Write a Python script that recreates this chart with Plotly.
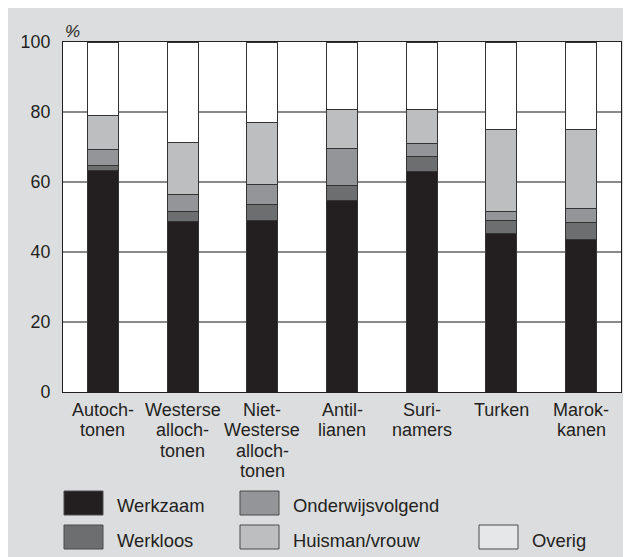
import plotly.graph_objects as go

# ---- data ----
categories = ["Autochtonen", "Westerse allochtonen", "Niet-Westerse allochtonen",
              "Antillianen", "Surinamers", "Turken", "Marokkanen"]
category_labels = [["Autoch-", "tonen"],
                   ["Westerse", "alloch-", "tonen"],
                   ["Niet-", "Westerse", "alloch-", "tonen"],
                   ["Antil-", "lianen"],
                   ["Suri-", "namers"],
                   ["Turken"],
                   ["Marok-", "kanen"]]
werkzaam = [63.3, 48.6, 48.9, 54.6, 63.1, 45.2, 43.7]
werkloos = [1.3, 3.1, 4.8, 4.3, 4.3, 3.8, 4.8]
onderwijsvolgend = [4.7, 4.7, 5.7, 10.7, 3.6, 2.7, 3.8]
huisman_vrouw = [9.7, 14.9, 17.7, 11.2, 9.7, 23.2, 22.6]
overig = [21.0, 28.7, 22.9, 19.2, 19.3, 25.1, 25.1]
y_ticks = [0, 20, 40, 60, 80, 100]

series_names = ["Werkzaam", "Werkloos", "Onderwijsvolgend", "Huisman/vrouw", "Overig"]
series_values = [werkzaam, werkloos, onderwijsvolgend, huisman_vrouw, overig]
bar_colors = ["#231f20", "#6d6e70", "#939598", "#bcbec0", "#ffffff"]
legend_colors = ["#231f20", "#6d6e70", "#939598", "#bcbec0", "#e6e7e8"]

W, H = 631, 557
OFF = 8  # page offset of the figure
ML, MT = 63 - OFF, 42 - OFF
PR, PB = 621 - OFF, 392 - OFF
MR, MB = W - PR, H - PB
PW = PR - ML
PH = PB - MT
FONT = "Liberation Sans, Arial, sans-serif"
TXT = "#231f20"


def fx(px):
    # px in reference-picture pixels
    return (px - OFF - ML) / PW


def fy(py):
    return (PB - (py - OFF)) / PH


fig = go.Figure()
xidx = list(range(len(categories)))
for name, vals, col in zip(series_names, series_values, bar_colors):
    fig.add_trace(go.Bar(
        x=xidx, y=vals, name=name, width=0.39,
        marker=dict(color=col, line=dict(color="#333333", width=1)),
        showlegend=False,
    ))

shapes = []
annotations = []

# category labels (multi-line, tight spacing)
for i, lines in enumerate(category_labels):
    for j, line in enumerate(lines):
        annotations.append(dict(
            x=i, xref="x", y=fy(410 + j * 20.3), yref="paper",
            text=line, showarrow=False, xanchor="center", yanchor="middle",
            font=dict(family=FONT, size=18, color=TXT)))

# percent sign
annotations.append(dict(x=fx(63), y=fy(31), xref="paper", yref="paper",
                        text="<i>%</i>", showarrow=False, xanchor="left", yanchor="middle",
                        font=dict(family=FONT, size=17, color=TXT)))

# legend (custom, large swatches)
legend_pos = {
    "Werkzaam": (64, 491),
    "Onderwijsvolgend": (240, 491),
    "Werkloos": (64, 525),
    "Huisman/vrouw": (240, 525),
    "Overig": (479, 525),
}
for name, col in zip(series_names, legend_colors):
    x0, y0 = legend_pos[name]
    shapes.append(dict(type="rect", xref="paper", yref="paper",
                       x0=fx(x0), x1=fx(x0 + 39), y0=fy(y0 + 24), y1=fy(y0),
                       fillcolor=col, line=dict(color="#4a4a4a", width=1)))
    annotations.append(dict(x=fx(x0 + 51), y=fy(y0 + 15), xref="paper", yref="paper",
                            text=name, showarrow=False, xanchor="left", yanchor="middle",
                            font=dict(family=FONT, size=18.4, color=TXT)))

fig.update_layout(
    width=W, height=H,
    margin=dict(l=ML, r=MR, t=MT, b=MB),
    barmode="stack",
    paper_bgcolor="#dcdddf",
    plot_bgcolor="#ffffff",
    shapes=shapes,
    annotations=annotations,
    font=dict(family=FONT, color=TXT),
)
fig.update_xaxes(range=[-0.5, len(categories) - 0.5], showticklabels=False,
                 showgrid=False, zeroline=False, ticks="",
                 showline=True, linecolor="#231f20", linewidth=1.3, mirror=True)
fig.update_yaxes(range=[0, 100], tickvals=y_ticks, ticktext=[str(v) for v in y_ticks],
                 showgrid=True, gridcolor="#8a8a8a", gridwidth=1.5, zeroline=False,
                 ticks="", ticklabelstandoff=8,
                 tickfont=dict(family=FONT, size=17.8, color=TXT),
                 showline=True, linecolor="#231f20", linewidth=1.3, mirror=True)

fig.write_html("out.html")
